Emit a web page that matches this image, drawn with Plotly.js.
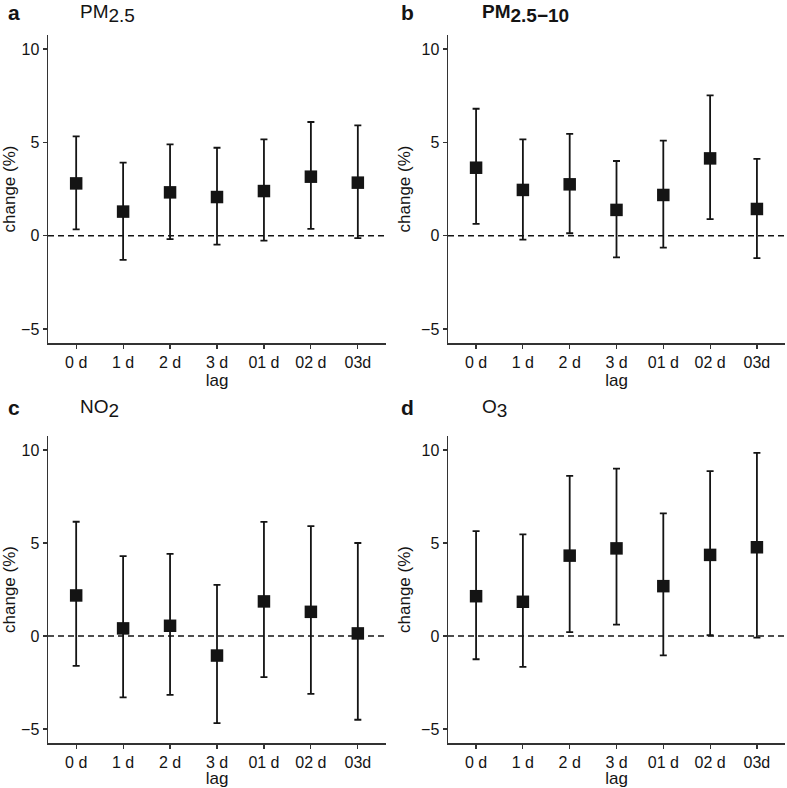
<!DOCTYPE html>
<html>
<head>
<meta charset="utf-8">
<script src="https://cdn.plot.ly/plotly-3.0.1.min.js"></script>
<style>html,body{margin:0;padding:0;background:#fff;}</style>
</head>
<body>
<div id="chart" style="width:787px;height:788px;"></div>
<script>
// ---- data ----
const lags = ["0 d", "1 d", "2 d", "3 d", "01 d", "02 d", "03d"];

const pm25_est   = [2.80, 1.29, 2.32, 2.07, 2.39, 3.16, 2.84];
const pm25_upper = [5.32, 3.91, 4.89, 4.71, 5.16, 6.09, 5.91];
const pm25_lower = [0.34, -1.30, -0.18, -0.48, -0.27, 0.36, -0.13];

const pmc_est   = [3.64, 2.45, 2.75, 1.38, 2.18, 4.14, 1.43];
const pmc_upper = [6.80, 5.16, 5.45, 4.00, 5.09, 7.52, 4.11];
const pmc_lower = [0.63, -0.21, 0.13, -1.16, -0.64, 0.89, -1.20];

const no2_est   = [2.18, 0.41, 0.55, -1.05, 1.86, 1.30, 0.14];
const no2_upper = [6.14, 4.29, 4.41, 2.75, 6.13, 5.91, 5.00];
const no2_lower = [-1.61, -3.30, -3.16, -4.68, -2.21, -3.11, -4.50];

const o3_est   = [2.14, 1.84, 4.32, 4.71, 2.68, 4.36, 4.77];
const o3_upper = [5.64, 5.46, 8.61, 9.00, 6.59, 8.86, 9.84];
const o3_lower = [-1.25, -1.66, 0.21, 0.61, -1.04, 0.04, -0.09];

const yTicks = [-5, 0, 5, 10];
const panelLetters = ["a", "b", "c", "d"];
const panelTitles = [
  'PM<sub><span style="font-size:19px">2.5</span></sub>',
  '<b>PM<sub><span style="font-size:19px">2.5\u221210</span></sub></b>',
  'NO<sub><span style="font-size:19px">2</span></sub>',
  'O<sub><span style="font-size:19px">3</span></sub>'
];

// ---- build ----
const panels = [
  {est: pm25_est, up: pm25_upper, lo: pm25_lower},
  {est: pmc_est, up: pmc_upper, lo: pmc_lower},
  {est: no2_est, up: no2_upper, lo: no2_lower},
  {est: o3_est, up: o3_upper, lo: o3_lower}
];
const ink = "#141414";
const axc = "#333333";
const font = "Liberation Sans, Arial, Helvetica, sans-serif";

const W = 787, H = 788;
const xDom = [[48/W, 386/W], [448/W, 785/W], [48/W, 386/W], [448/W, 785/W]];
const yDom = [[1-343/H, 1-35/H], [1-343/H, 1-35/H], [1-743/H, 1-436/H], [1-743/H, 1-436/H]];

const traces = [];
const layout = {
  width: W, height: H,
  margin: {l: 0, r: 0, t: 0, b: 0},
  paper_bgcolor: "#fff", plot_bgcolor: "#fff",
  showlegend: false,
  font: {family: font, color: ink},
  shapes: [], annotations: []
};

panels.forEach((p, i) => {
  const sfx = i === 0 ? "" : String(i + 1);
  traces.push({
    type: "scatter", mode: "markers",
    x: lags, y: p.est,
    xaxis: "x" + sfx, yaxis: "y" + sfx,
    marker: {symbol: "square", size: 12.5, color: ink},
    error_y: {
      type: "data", symmetric: false,
      array: p.up.map((u, k) => u - p.est[k]),
      arrayminus: p.lo.map((l, k) => p.est[k] - l),
      color: ink, thickness: 1.8, width: 3.5
    },
    hoverinfo: "x+y"
  });
  layout["xaxis" + sfx] = {
    domain: xDom[i], anchor: "y" + sfx,
    type: "category", categoryorder: "array", categoryarray: lags,
    range: [-0.6, 6.6],
    showline: true, linecolor: axc, linewidth: 1.5,
    ticks: "outside", ticklen: 4, tickwidth: 1.2, tickcolor: axc,
    showgrid: false, zeroline: false,
    tickfont: {size: 16, color: ink, family: font},
    title: {text: "lag", font: {size: 17, color: ink, family: font}, standoff: 0}
  };
  layout["yaxis" + sfx] = {
    domain: yDom[i], anchor: "x" + sfx,
    range: [-5.75, 10.75],
    tickvals: yTicks,
    showline: true, linecolor: axc, linewidth: 1.5,
    ticks: "outside", ticklen: 4, tickwidth: 1.2, tickcolor: axc,
    showgrid: false, zeroline: false,
    tickfont: {size: 16, color: ink, family: font},
    title: {text: "change (%)", font: {size: 17, color: ink, family: font}, standoff: 6}
  };
  layout.shapes.push({
    type: "line", xref: "x" + sfx + " domain", yref: "y" + sfx,
    x0: 0, x1: 1, y0: 0, y1: 0,
    line: {color: ink, width: 1.5, dash: "6px,4px"}
  });
  const top = i < 2 ? 0 : 394;
  const left = i % 2 === 0 ? 0 : 393;
  layout.annotations.push({
    xref: "paper", yref: "paper", showarrow: false,
    x: (left + 6) / W, y: 1 - (top + 13) / H,
    xanchor: "left", yanchor: "middle",
    text: "<b>" + panelLetters[i] + "</b>",
    font: {size: 21, color: ink, family: font}
  });
  layout.annotations.push({
    xref: "paper", yref: "paper", showarrow: false,
    x: (left + (i % 2 === 0 ? 78 : 87)) / W, y: 1 - (top + 14) / H,
    xanchor: "left", yanchor: "middle",
    text: panelTitles[i],
    font: {size: 19, color: ink, family: font}
  });
});

Plotly.newPlot("chart", traces, layout, {staticPlot: true});
</script>
</body>
</html>
